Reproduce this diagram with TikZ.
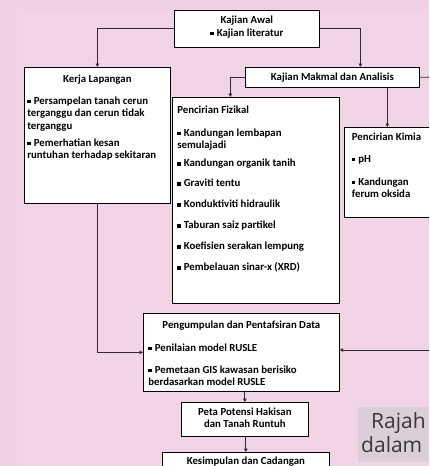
\documentclass[tikz,border=0pt]{standalone}
\usepackage{fontspec}
\setmainfont{Carlito}
\newfontfamily\captionfont{Open Sans}
\usetikzlibrary{arrows.meta}

\definecolor{pagebg}{RGB}{240,208,228}
\definecolor{panelbg}{RGB}{242,212,231}
\definecolor{capgrey}{RGB}{218,207,216}
\definecolor{linegrey}{RGB}{45,45,45}

% small square bullet and top-aligned box text
\newcommand{\blt}{\rule[0.25ex]{0.3em}{0.3em}\hspace{0.3em}}
\newcommand{\boxtext}[3]{\begin{minipage}[t][#2][t]{#1}\raggedright#3\end{minipage}}

\tikzset{
  stepbox/.style={draw=black, line width=0.7pt, fill=white, inner xsep=#1,
    inner ysep=0pt, anchor=north west, font=\bfseries\fontsize{10.8}{12.5}\selectfont},
  stepbox/.default=3pt,
  flow/.style={draw=linegrey, line width=0.8pt, -{Triangle[length=3.5pt,width=3.5pt]}}
}

\begin{document}
\begin{tikzpicture}[x=1pt,y=-1pt]
  \useasboundingbox (0,0) rectangle (429,466);
  \clip (0,0) rectangle (429,466);
  \fill[pagebg] (0,0) rectangle (429,466);
  \fill[panelbg] (23,10) rectangle (429,466);

  % Define nodes for all elements
  \node[stepbox] (awal) at (174,10) {\boxtext{139pt}{37pt}{\centering
    \vspace*{4.25pt}\strut Kajian Awal\par\vspace{0.5pt}
    \strut\blt Kajian literatur\par}};
  \node[stepbox] (kerja) at (24,67) {\boxtext{140pt}{136pt}{%
    \vspace*{6.25pt}{\centering\strut Kerja Lapangan\par}\vspace{9.5pt}
    \strut\blt Persampelan tanah cerun\\\strut terganggu dan cerun tidak\\\strut terganggu\par\vspace{4.5pt}
    \strut\blt Pemerhatian kesan\\\strut runtuhan terhadap sekitaran\par}};
  \node[stepbox] (makmal) at (245,67) {\boxtext{168pt}{20pt}{\centering
    \vspace*{4.25pt}\strut Kajian Makmal dan Analisis\par}};
  \node[stepbox=5pt] (fizikal) at (172,97) {\boxtext{157pt}{206pt}{%
    \vspace*{7.25pt}\strut Pencirian Fizikal\par\vspace{10.5pt}
    \strut\blt Kandungan lembapan\\\strut semulajadi\par\vspace{5.5pt}
    \strut\blt Kandungan organik tanih\par\vspace{7.5pt}
    \strut\blt Graviti tentu\par\vspace{8.5pt}
    \strut\blt Konduktiviti hidraulik\par\vspace{8.5pt}
    \strut\blt Taburan saiz partikel\par\vspace{8.5pt}
    \strut\blt Koefisien serakan lempung\par\vspace{8.5pt}
    \strut\blt Pembelauan sinar-x (XRD)\par}};
  \node[stepbox=7.5pt] (kimia) at (344,127) {\boxtext{71pt}{90pt}{%
    \vspace*{4.25pt}\strut Pencirian Kimia\par\vspace{9.5pt}
    \strut\blt pH\par\vspace{10.5pt}
    \strut\blt Kandungan\\\strut ferum oksida\par}};
  \node[stepbox=5pt] (data) at (143,313) {\boxtext{186pt}{78pt}{%
    \vspace*{6.25pt}{\centering\strut Pengumpulan dan Pentafsiran Data\par}\vspace{10.5pt}
    \strut\blt Penilaian model RUSLE\par\vspace{9.5pt}
    \strut\blt Pemetaan GIS kawasan berisiko\\\strut berdasarkan model RUSLE\par}};
  \node[stepbox] (peta) at (181,402) {\boxtext{121pt}{34pt}{\centering
    \vspace*{4.25pt}\strut Peta Potensi Hakisan\\\strut dan Tanah Runtuh\par}};
  \node[stepbox] (kesim) at (162,452) {\boxtext{161pt}{30pt}{\centering
    \vspace*{3pt}\strut Kesimpulan dan Cadangan\par}};

  % caption fragment on the right
  \fill[capgrey] (358,407) rectangle (429,462);
  \node[anchor=base west, inner sep=0pt, text=black!78, font=\captionfont\fontsize{21}{24}\selectfont] (rajah) at (371,428) {Rajah};
  \node[anchor=base west, inner sep=0pt, text=black!78, font=\captionfont\fontsize{21}{24}\selectfont] (dalam) at (361,452) {dalam};

  % Draw arrows
  \coordinate (loopTop) at (432,77);
  \coordinate (loopBot) at (432,350);
  \draw[flow] (awal.west) -| (kerja.north);
  \draw[flow] (awal.east) -| ([xshift=28pt]makmal.north);
  \draw[flow] (makmal.west) -| ([xshift=-25.5pt]fizikal.north);
  \draw[flow] (makmal.south -| kimia.north) -- (kimia.north);
  \draw[draw=linegrey, line width=0.8pt] (makmal.east) -- (loopTop) -- (loopBot);
  \draw[flow] (loopBot) -- (data.east |- loopBot);
  \draw[flow] (kerja.south) |- (data.west);
  \draw[flow] (peta.north |- data.south) -- (peta.north);
  \draw[flow] (kesim.north |- peta.south) -- (kesim.north);

\end{tikzpicture}
\end{document}
